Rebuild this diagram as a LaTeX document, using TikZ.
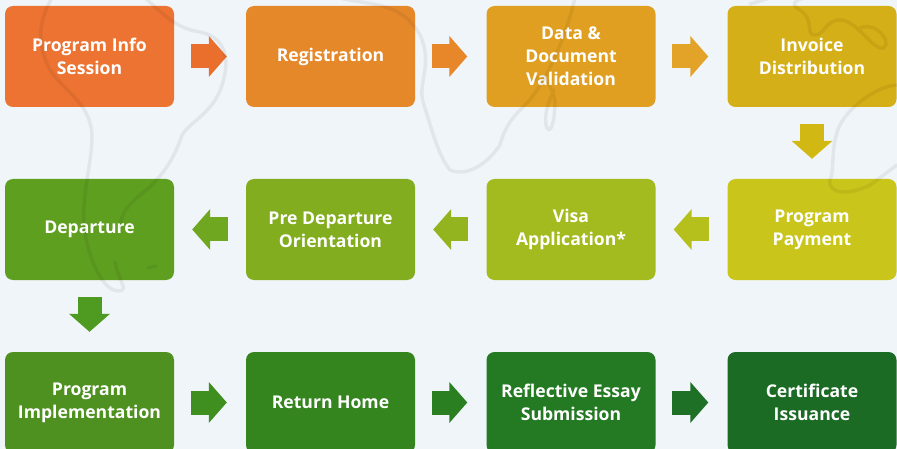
\documentclass[tikz,border=0pt]{standalone}
\usepackage{fontspec}
\setmainfont{Open Sans}
\usetikzlibrary{arrows.meta}
\definecolor{bg}{HTML}{F0F5F9}
\definecolor{b1}{HTML}{EC7331}
\definecolor{b2}{HTML}{E5882A}
\definecolor{b3}{HTML}{E09F20}
\definecolor{b4}{HTML}{D5AF17}
\definecolor{b5}{HTML}{C9C51B}
\definecolor{b6}{HTML}{A3BB1E}
\definecolor{b7}{HTML}{82AD1F}
\definecolor{b8}{HTML}{5F9F20}
\definecolor{b9}{HTML}{4E9120}
\definecolor{b10}{HTML}{35851F}
\definecolor{b11}{HTML}{247A22}
\definecolor{b12}{HTML}{1B6B25}
\definecolor{f1}{HTML}{EB6F2C}
\definecolor{f2}{HTML}{E8862A}
\definecolor{f3}{HTML}{E2A328}
\definecolor{f4}{HTML}{D2B812}
\definecolor{f5}{HTML}{B6C01C}
\definecolor{f6}{HTML}{93B41E}
\definecolor{f7}{HTML}{70A720}
\definecolor{f8}{HTML}{4F9A20}
\definecolor{f9}{HTML}{3F8E20}
\definecolor{f10}{HTML}{2A8020}
\definecolor{f11}{HTML}{1E7026}
\tikzset{
  stage/.style={fill=#1,draw=none,rounded corners=8pt,minimum width=169pt,minimum height=101pt,
    inner sep=0pt,text=white,align=center,font=\fontsize{17.6}{23}\selectfont\bfseries},
  lift/.style={execute at end node={\\[-19pt]\mbox{}}},
  flow/.style={draw=#1,line width=24pt,-{Triangle[length=18pt,width=40pt,fill=#1]}},
  hflow/.style={flow=#1,shorten <=16.5pt,shorten >=19pt},
  lflow/.style={flow=#1,shorten <=18pt,shorten >=18pt},
  vflow/.style={flow=#1,shorten <=17pt,shorten >=20pt},
  mapline/.style={draw=black,draw opacity=.06,line width=3.5pt,line cap=round,line join=round}
}
\begin{document}
\begin{tikzpicture}[x=1pt,y=-1pt]
\useasboundingbox (0,0) rectangle (897,449);
\clip (0,0) rectangle (897,449);
\fill[bg] (0,0) rectangle (897,449);
% boxes
\node[stage=b1,lift] (a1) at (89.5,56.5) {Program Info\\Session};
\node[stage=b2] (a2) at (330.5,56.5) {Registration};
\node[stage=b3,lift] (a3) at (571,56.5) {Data \&\\Document\\Validation};
\node[stage=b4,lift] (a4) at (812,56.5) {Invoice\\Distribution};
\node[stage=b5] (a5) at (812,229.5) {Program\\Payment};
\node[stage=b6] (a6) at (571,229.5) {Visa\\Application*};
\node[stage=b7,lift] (a7) at (330.5,229.5) {Pre Departure\\Orientation};
\node[stage=b8] (a8) at (89.5,229.5) {Departure};
\node[stage=b9,lift] (a9) at (89.5,402.5) {Program\\Implementation};
\node[stage=b10,lift] (a10) at (330.5,402.5) {Return Home};
\node[stage=b11,lift] (a11) at (571,402.5) {Reflective Essay\\Submission};
\node[stage=b12,lift] (a12) at (812,402.5) {Certificate\\Issuance};
% block arrows
\draw[hflow=f1] (a1.east) -- (a2.west);
\draw[hflow=f2] (a2.east) -- (a3.west);
\draw[hflow=f3] (a3.east) -- (a4.west);
\draw[vflow=f4] (a4.south) -- (a5.north);
\draw[lflow=f5] (a5.west) -- (a6.east);
\draw[lflow=f6] (a6.west) -- (a7.east);
\draw[lflow=f7] (a7.west) -- (a8.east);
\draw[vflow=f8] (a8.south) -- (a9.north);
\draw[hflow=f9] (a9.east) -- (a10.west);
\draw[hflow=f10] (a10.east) -- (a11.west);
\draw[hflow=f11] (a11.east) -- (a12.west);
% faint world-map watermark
\draw[mapline] (52,-2) .. controls (40,18) and (36,40) .. (48,66) .. controls (60,90) and (90,100) .. (92,135) .. controls (92,165) and (82,190) .. (84,225) .. controls (86,250) and (100,290) .. (118,291) .. controls (130,291) and (118,280) .. (115,262);
\draw[mapline] (145,-2) .. controls (165,15) and (175,28) .. (200,32) .. controls (222,36) and (232,55) .. (222,85) .. controls (214,112) and (190,122) .. (182,135) .. controls (174,160) and (160,180) .. (140,195) .. controls (128,205) and (120,215) .. (120,228);
\draw[mapline] (148,268) -- (156,266);
\draw[mapline] (340,-2) .. controls (370,6) and (400,0) .. (420,35) .. controls (434,65) and (416,85) .. (424,105) .. controls (432,130) and (438,155) .. (450,170) .. controls (470,178) and (490,160) .. (500,145) .. controls (505,125) and (515,115) .. (525,105) .. controls (545,85) and (565,40) .. (575,-2);
\draw[mapline] (535,80) .. controls (545,70) and (550,85) .. (555,100) .. controls (555,130) and (548,135) .. (546,125) .. controls (544,110) and (550,100) .. (554,90);
\draw[mapline] (770,-2) -- (750,4);
\draw[mapline] (830,-2) .. controls (790,-5) and (790,5) .. (800,10) .. controls (815,20) and (805,35) .. (815,35) .. controls (825,35) and (825,20) .. (840,20) .. controls (855,20) and (870,45) .. (880,48) .. controls (895,50) and (880,20) .. (860,28);
\draw[mapline] (897,85) .. controls (880,85) and (850,105) .. (840,125) .. controls (830,145) and (835,170) .. (830,180) .. controls (828,195) and (850,195) .. (870,185) .. controls (880,178) and (890,170) .. (897,165);
\end{tikzpicture}
\end{document}
